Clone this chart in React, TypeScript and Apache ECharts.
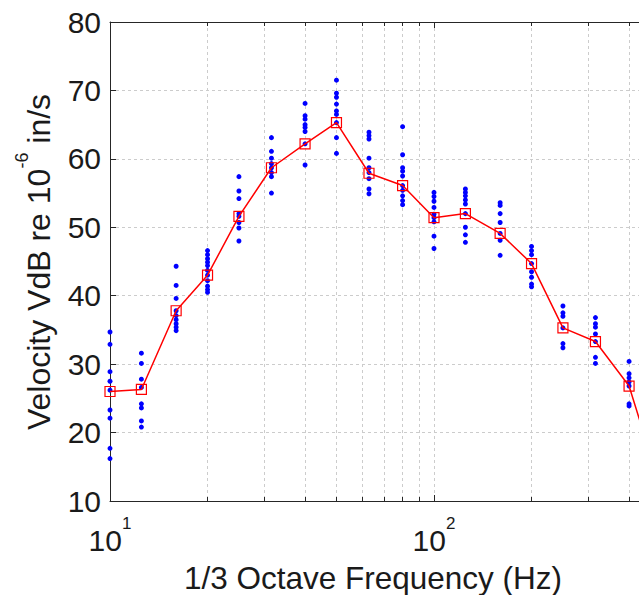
import React, { useEffect, useRef } from "react";
import * as echarts from "echarts";

const bands = [10, 12.5, 16, 20, 25, 31.5, 40, 50, 63, 80, 100, 125, 160, 200, 250, 315, 400, 500];
const bandMeans = [26.0, 26.3, 37.8, 43.0, 51.6, 58.7, 62.2, 65.3, 57.9, 56.1, 51.4, 52.0, 49.1, 44.7, 35.3, 33.3, 26.8, 12.0];
const bandReadings: number[][] = [
  [34.7, 32.9, 28.9, 27.5, 26.2, 23.3, 22.1, 17.7, 16.2],
  [31.6, 30.1, 27.8, 26.6, 24.2, 23.6, 21.7, 20.8],
  [44.3, 41.5, 39.6, 37.8, 37.1, 36.5, 35.9, 35.4, 34.9],
  [46.6, 46.0, 45.4, 44.9, 44.4, 43.7, 43.0, 42.2, 41.4, 40.9, 40.5],
  [57.4, 55.3, 54.2, 52.0, 51.6, 50.7, 49.9, 48.0],
  [63.1, 61.1, 60.1, 59.3, 58.7, 58.0, 57.4, 55.0],
  [68.1, 66.3, 65.8, 65.0, 64.6, 64.0, 62.2, 59.1],
  [71.5, 69.6, 69.0, 68.0, 67.0, 66.5, 65.3, 63.1, 60.8],
  [63.9, 63.4, 62.9, 60.1, 58.7, 58.0, 57.1, 55.6, 54.9],
  [64.7, 60.6, 58.7, 58.2, 57.5, 56.1, 55.4, 54.6, 53.9, 53.3],
  [55.1, 54.5, 53.8, 52.9, 51.9, 51.4, 50.8, 48.7, 46.9],
  [55.6, 55.1, 54.6, 54.0, 53.4, 52.0, 50.0, 48.9, 47.8],
  [53.6, 53.2, 52.0, 50.7, 49.1, 48.1, 45.9],
  [47.2, 46.6, 46.0, 44.7, 43.5, 42.7, 41.7, 41.3],
  [38.5, 37.5, 37.0, 35.3, 33.0, 32.4],
  [36.8, 35.9, 35.4, 34.4, 33.3, 31.0, 30.1],
  [30.4, 28.6, 28.0, 27.4, 26.8, 24.2, 23.9],
  [],
];
const yTicks = { min: 10, max: 80, step: 10 };
const xRange = { min: 10, max: 1000 };
const xTitle = "1/3 Octave Frequency (Hz)";
const yTitleParts = ["Velocity VdB re 10", "-6", " in/s"];

const FONT = "'Liberation Sans', Arial, Helvetica, sans-serif";
const INK = "#1a1a1a";
const AXIS = "#262626";
const GRID = "#cccccc";

export default function App() {
  const ref = useRef<HTMLDivElement>(null);
  useEffect(() => {
    if (!ref.current) return;
    const chart = echarts.init(ref.current, null, { renderer: "svg" });
    const scatterData: number[][] = [];
    bands.forEach((f, i) => (bandReadings[i] || []).forEach((v) => scatterData.push([f, v])));
    const meanData = bands.map((f, i) => [f, bandMeans[i]]);

    const xLabelFmt = (val: number) => {
      const e = Math.round(Math.log10(val));
      if (Math.abs(val - Math.pow(10, e)) > 1e-6 || e > 2) return "";
      return `{b|10}{s|${e}}`;
    };

    chart.setOption({
      animation: false,
      backgroundColor: "#ffffff",
      grid: { left: 110, top: 22, width: 648, bottom: 94, show: false, containLabel: false, outerBoundsMode: "none" },
      xAxis: [
        {
          type: "log",
          logBase: 10,
          min: xRange.min,
          max: xRange.max,
          position: "bottom",
          axisLine: { show: true, lineStyle: { color: AXIS, width: 1 } },
          axisTick: { show: true, inside: true, length: 6, lineStyle: { color: AXIS } },
          minorTick: { show: true, splitNumber: 9, length: 4, lineStyle: { color: AXIS } },
          splitLine: { show: true, lineStyle: { color: GRID, type: [3, 3], width: 1 } },
          minorSplitLine: { show: true, lineStyle: { color: GRID, type: [3, 3], width: 1 } },
          axisLabel: {
            formatter: xLabelFmt,
            margin: 14,
            rich: {
              b: { fontSize: 30, fontFamily: FONT, color: INK, lineHeight: 40, verticalAlign: "bottom" },
              s: { fontSize: 17, fontFamily: FONT, color: INK, lineHeight: 18, verticalAlign: "top" },
            },
          },
        },
        {
          type: "log",
          logBase: 10,
          min: xRange.min,
          max: xRange.max,
          position: "top",
          axisLine: { show: true, lineStyle: { color: AXIS, width: 1 } },
          axisTick: { show: true, inside: true, length: 6, lineStyle: { color: AXIS } },
          minorTick: { show: true, splitNumber: 9, length: 4, lineStyle: { color: AXIS } },
          splitLine: { show: false },
          axisLabel: { show: false },
        },
      ],
      yAxis: [
        {
          type: "value",
          min: yTicks.min,
          max: yTicks.max,
          interval: yTicks.step,
          axisLine: { show: true, lineStyle: { color: AXIS, width: 1 } },
          axisTick: { show: true, inside: true, length: 6, lineStyle: { color: AXIS } },
          splitLine: { show: true, lineStyle: { color: GRID, type: [3, 3], width: 1 } },
          axisLabel: { fontSize: 30, fontFamily: FONT, color: INK, margin: 9 },
        },
      ],
      graphic: [
        {
          type: "text",
          x: 373,
          y: 578,
          style: {
            text: xTitle,
            fontSize: 31.5,
            fontFamily: FONT,
            fill: INK,
            align: "center",
            verticalAlign: "middle",
          },
        },
        {
          type: "text",
          x: 34,
          y: 262,
          rotation: Math.PI / 2,
          style: {
            text: `{m|${yTitleParts[0]}}{s|${yTitleParts[1]}}{m|${yTitleParts[2]}}`,
            align: "center",
            verticalAlign: "middle",
            rich: {
              m: { fontSize: 32, fontFamily: FONT, fill: INK, lineHeight: 42, verticalAlign: "bottom" },
              s: { fontSize: 18, fontFamily: FONT, fill: INK, lineHeight: 19, verticalAlign: "top" },
            },
          },
        },
      ],
      series: [
        {
          type: "scatter",
          xAxisIndex: 0,
          yAxisIndex: 0,
          data: scatterData,
          symbol: "circle",
          symbolSize: 5,
          itemStyle: { color: "#0000ff", opacity: 1 },
          z: 2,
        },
        {
          type: "line",
          xAxisIndex: 0,
          yAxisIndex: 0,
          data: meanData,
          symbol: "rect",
          symbolSize: 10,
          showSymbol: true,
          showAllSymbol: true,
          lineStyle: { color: "#ff0000", width: 1.5 },
          itemStyle: { color: "rgba(255,255,255,0)", borderColor: "#ff0000", borderWidth: 1.2 },
          z: 3,
        },
      ],
    });
    return () => chart.dispose();
  }, []);
  return <div ref={ref} style={{ position: "fixed", left: 0, top: 0, width: 639, height: 595 }} />;
}
